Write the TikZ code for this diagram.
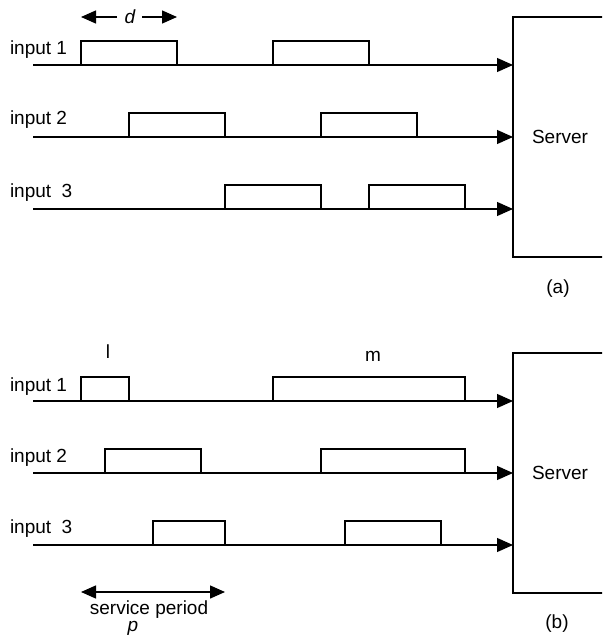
\documentclass[tikz,border=0pt]{standalone}
\usepackage{fontspec}
\setmainfont{Liberation Sans}
\usetikzlibrary{arrows.meta}
\tikzset{
  lbl/.style={font=\fontsize{19}{22}\selectfont, inner sep=0pt, outer sep=0pt},
  inlabel/.style={lbl, anchor=base west},
  pulse/.style={draw, fill=white, line width=1.4pt, inner sep=0pt, outer sep=0pt,
                anchor=south west, minimum height=24pt},
  track/.style={line width=1.2pt, -{Triangle[length=16pt,width=14pt]}},
  srv/.style={draw, line width=1.4pt, inner sep=0pt, outer sep=0pt, anchor=north west,
              minimum width=110pt, minimum height=240pt},
  dim/.style={line width=1.4pt, -{Triangle[length=15pt,width=13pt]}},
}
\begin{document}
\begin{tikzpicture}[x=1pt,y=-1pt]
\useasboundingbox (0,0) rectangle (602,636);
\begin{scope}
\clip (0,0) rectangle (602,636);

% ---------------- panel (a) ----------------
\node[srv] (srvA) at (513,17) {};
\node[lbl] (srvAtxt) at (560,137) {Server};
\node[lbl] (capA) at (558,289) {(a)};

\coordinate (a1s) at (33,65);
\coordinate (a2s) at (33,137);
\coordinate (a3s) at (33,209);
\coordinate (a1e) at (513,65);
\coordinate (a2e) at (513,137);
\coordinate (a3e) at (513,209);
\draw[track] (a1s) -- (a1e);
\draw[track] (a2s) -- (a2e);
\draw[track] (a3s) -- (a3e);

\node[inlabel] (inA1) at (10,55) {input 1};
\node[inlabel] (inA2) at (10,125) {input 2};
\node[inlabel] (inA3) at (10,198) {input\ \ 3};

\node[pulse, minimum width=96pt] (pa11) at (81,65) {};
\node[pulse, minimum width=96pt] (pa12) at (273,65) {};
\node[pulse, minimum width=96pt] (pa21) at (129,137) {};
\node[pulse, minimum width=96pt] (pa22) at (321,137) {};
\node[pulse, minimum width=96pt] (pa31) at (225,209) {};
\node[pulse, minimum width=96pt] (pa32) at (369,209) {};

% width marker d
\node[lbl, font=\fontsize{19}{22}\selectfont\itshape] (dlab) at (130,17) {d};
\coordinate (dL) at (81,17);
\coordinate (dR) at (177,17);
\coordinate (dLi) at (117,17);
\coordinate (dRi) at (142,17);
\draw[dim] (dLi) -- (dL);
\draw[dim] (dRi) -- (dR);

% ---------------- panel (b) ----------------
\node[srv] (srvB) at (513,353) {};
\node[lbl] (srvBtxt) at (560,473) {Server};
\node[lbl] (capB) at (557,624) {(b)};

\coordinate (b1s) at (33,401);
\coordinate (b2s) at (33,473);
\coordinate (b3s) at (33,545);
\coordinate (b1e) at (513,401);
\coordinate (b2e) at (513,473);
\coordinate (b3e) at (513,545);
\draw[track] (b1s) -- (b1e);
\draw[track] (b2s) -- (b2e);
\draw[track] (b3s) -- (b3e);

\node[inlabel] (inB1) at (10,391) {input 1};
\node[inlabel] (inB2) at (10,462) {input 2};
\node[inlabel] (inB3) at (10,533) {input\ \ 3};

\node[pulse, minimum width=48pt] (pb11) at (81,401) {};
\node[pulse, minimum width=192pt] (pb12) at (273,401) {};
\node[pulse, minimum width=96pt] (pb21) at (105,473) {};
\node[pulse, minimum width=144pt] (pb22) at (321,473) {};
\node[pulse, minimum width=72pt] (pb31) at (153,545) {};
\node[pulse, minimum width=96pt] (pb32) at (345,545) {};

\node[lbl, anchor=base] (llab) at (108,358) {l};
\node[lbl, anchor=base] (mlab) at (373,361) {m};

% service period marker
\coordinate (spL) at (81,592);
\coordinate (spR) at (225,592);
\coordinate (spM) at (153,592);
\draw[dim] (spM) -- (spL);
\draw[dim] (spM) -- (spR);
\node[lbl, anchor=base] (splab) at (149,614) {service period};
\node[lbl, anchor=base, font=\fontsize{19}{22}\selectfont\itshape] (plab) at (133,631) {p};
\end{scope}
\end{tikzpicture}
\end{document}
